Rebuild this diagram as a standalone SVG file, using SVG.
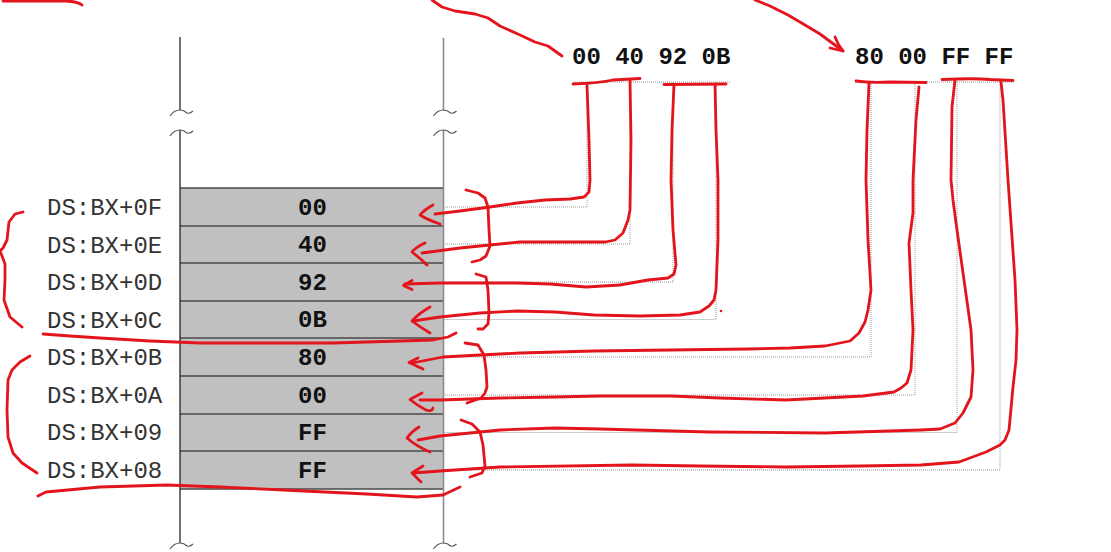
<svg xmlns="http://www.w3.org/2000/svg" width="1111" height="552" viewBox="0 0 1111 552">
<defs>
<style>
.lbl{font-family:"Liberation Mono","Courier New",monospace;font-size:24px;fill:#333}
.val{font-family:"Liberation Mono","Courier New",monospace;font-size:24px;font-weight:bold;fill:#111;text-anchor:middle}
.hex{font-family:"Liberation Mono","Courier New",monospace;font-size:24px;font-weight:bold;fill:#111}
.sep{stroke:#4a4a4a;stroke-width:1.5}
.dot{fill:none;stroke:#9a9a9a;stroke-width:1;stroke-dasharray:1 1}
.red{fill:none;stroke:#e3141b;stroke-width:2.8;stroke-linecap:round;stroke-linejoin:round}
.tl{fill:none;stroke-width:1.2}
</style>
<path id="tilde" d="M-10,6 Q-6,0 0,0 Q4,0 7,3 Q10,4 13,1"/>
</defs>
<rect width="1111" height="552" fill="#fff"/>

<g id="memory">
<rect x="180" y="188" width="263" height="301" fill="#c0c0c0"/>
<line class="sep" x1="180" y1="188" x2="443" y2="188"/>
<line class="sep" x1="180" y1="226" x2="443" y2="226"/>
<line class="sep" x1="180" y1="263" x2="443" y2="263"/>
<line class="sep" x1="180" y1="301" x2="443" y2="301"/>
<line class="sep" x1="180" y1="338" x2="443" y2="338"/>
<line class="sep" x1="180" y1="376" x2="443" y2="376"/>
<line class="sep" x1="180" y1="414" x2="443" y2="414"/>
<line class="sep" x1="180" y1="451" x2="443" y2="451"/>
<line class="sep" x1="180" y1="489" x2="443" y2="489"/>
<g stroke="#222" stroke-width="1.3">
<line x1="180" y1="37" x2="180" y2="110"/>
<line x1="180" y1="130" x2="180" y2="543"/>
</g>
<g stroke="#8c8c8c" stroke-width="1.6">
<line x1="443.5" y1="38" x2="443.5" y2="110"/>
<line x1="443.5" y1="130" x2="443.5" y2="543"/>
</g>
<g class="tl" stroke="#555">
<use href="#tilde" x="180" y="110"/>
<use href="#tilde" x="180" y="130"/>
<use href="#tilde" x="180" y="543"/>
<use href="#tilde" x="443.5" y="110"/>
<use href="#tilde" x="443.5" y="130"/>
<use href="#tilde" x="443.5" y="543"/>
</g>
</g>

<g id="values">
<text class="val" x="312.5" y="214.5">00</text>
<text class="val" x="312.5" y="252">40</text>
<text class="val" x="312.5" y="289.5">92</text>
<text class="val" x="312.5" y="327">0B</text>
<text class="val" x="312.5" y="365">80</text>
<text class="val" x="312.5" y="402.5">00</text>
<text class="val" x="312.5" y="440">FF</text>
<text class="val" x="312.5" y="477.5">FF</text>
</g>

<g id="labels">
<text class="lbl" x="47" y="215">DS:BX+0F</text>
<text class="lbl" x="47" y="252.5">DS:BX+0E</text>
<text class="lbl" x="47" y="290">DS:BX+0D</text>
<text class="lbl" x="47" y="327.5">DS:BX+0C</text>
<text class="lbl" x="47" y="365">DS:BX+0B</text>
<text class="lbl" x="47" y="402.5">DS:BX+0A</text>
<text class="lbl" x="47" y="440">DS:BX+09</text>
<text class="lbl" x="47" y="477.5">DS:BX+08</text>
</g>

<g id="bytes">
<text class="hex" x="572" y="64">00 40 92 0B</text>
<text class="hex" x="855" y="64">80 00 FF FF</text>
</g>

<g id="connectors">
<path class="dot" d="M573,82H731M855,82H1014"/>
<path class="dot" d="M587,82V207H444"/>
<path class="dot" d="M630,82V244H444"/>
<path class="dot" d="M673,82V282H444"/>
<path class="dot" d="M716,82V319.5H444"/>
<path class="dot" d="M871,82V357H444"/>
<path class="dot" d="M915,82V395H444"/>
<path class="dot" d="M957,82V432.5H444"/>
<path class="dot" d="M1000,82V470H444"/>
</g>

<g id="annotations" class="red">
<path d="M3,1 L66,1 Q78,1.5 82,5"/>
<polyline points="432,0 442,7 455,11 475,14 488,18 500,26 520,35 535,42 548,46 562,56"/>
<polyline points="755,0 770,6 788,15 805,25 820,34 843,51"/>
<path d="M835,37 Q838,45 843,51 L830,48"/>
<path d="M573,84 Q600,83 613,80 L640,78.5"/>
<path d="M664,84.5 L726,84"/>
<path d="M856,81 Q870,83 890,82 L926,82.5"/>
<path d="M942,79.5 Q975,78 990,79.5 L1013,80.5"/>

<polyline points="587,85 589,140 590,180 589,192 584,197 570,199 545,200 517,203 490,207 460,211 435,214"/>
<path d="M433,205 Q424,210 420,215 Q428,220 440,224"/>
<polyline points="630,80 631,140 630,210 628,220 623,233 615,240 605,242 560,242 520,242 490,245 460,248 422,253"/>
<path d="M425,243 Q416,247 412,252 Q420,258 427,265"/>
<polyline points="674,85 672,130 671,180 673,230 676,265 674,274 668,278 648,280 620,285 586,287 550,284 517,283 480,283 440,283 405,284"/>
<path d="M412,280.5 L403.5,285.5 L412,289.5"/>
<polyline points="715,85 716,130 718,180 718,240 716,290 714,300 709,306 700,312 680,315 640,316 594,315 555,312 517,311 480,313 440,317 413,321"/>
<path d="M430,307 Q418,314 412,321 Q420,327 430,333"/>
<circle cx="721" cy="311" r="1.3" fill="#e3141b" stroke="none"/>

<polyline points="869,83 867,130 866,180 868,240 871,290 868,310 865,322 859,333 850,341 825,346 790,348 748,349 670,350 594,351 520,353 480,355 443,357 412,363"/>
<path d="M418,358 L409,362.5 L423,369"/>
<polyline points="919,87 916,120 913,180 913,213 909,243 911,290 913,330 912,350 911,370 907,383 901,388 894,392 863,396 786,400 720,398 671,396 600,396 555,397 500,398 440,400 420,400"/>
<path d="M422,393 L410,399.5 Q418,406 426,410 Q432,412 433,408"/>
<polyline points="955,80 952,107 951,180 953,200 957,230 964,280 971,330 973,370 971,397 963,413 955,423 940,429 921,430 825,433 709,432 600,429 555,428 500,430 440,436 418,440"/>
<path d="M419,427 Q411,432 407,438 Q416,446 430,452"/>
<polyline points="1001,82 1003,100 1008,180 1015,280 1017,330 1016,360 1013,387 1009,430 1005,440 1000,445 986,452 959,462 921,465 860,466 786,467 700,466 632,465 500,467 440,471 413,473"/>
<path d="M423,466 L412,473 L421,482"/>

<polyline points="466,190 478,193 485,198 488,207 489,230 490,246 486,256 480,260 472,262"/>
<polyline points="476,274 486,277 488,290 489,313 488,324 483,329 478,329"/>
<polyline points="465,343 478,345 484,355 486,370 487,387 485,393 481,398 467,403"/>
<polyline points="461,420 472,424 480,432 483,445 485,466 482,473 470,477"/>

<polyline points="23,212 15,214 9,222 7,240 3,248 0,251 2,256 5,264 5,280 4,300 10,317 22,327"/>
<polyline points="30,356 20,362 12,370 8,380 7,410 8,437 13,453 22,463 37,473"/>

<polyline points="43,334 70,336 100,338 150,341 200,343 270,343 333,343 400,341 433,340 448,337 456,333"/>
<polyline points="38,496 46,492 100,487 167,485 220,487 283,490 367,494 417,497 443,495 460,487"/>
</g>
</svg>
